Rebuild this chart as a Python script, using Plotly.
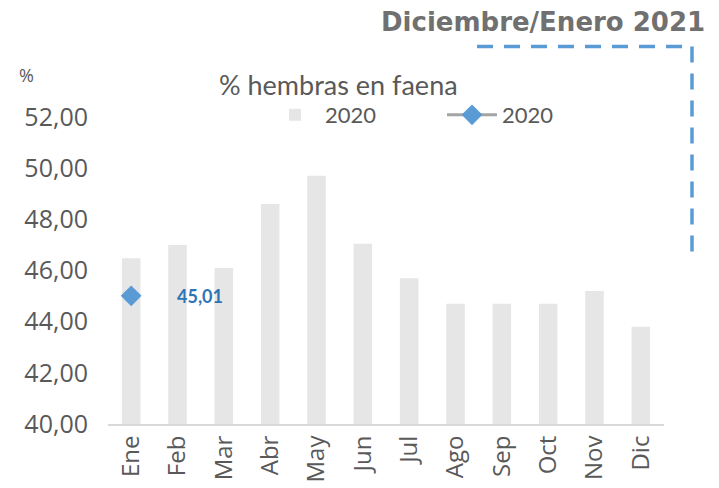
import plotly.graph_objects as go

months = ["Ene", "Feb", "Mar", "Abr", "May", "Jun", "Jul", "Ago", "Sep", "Oct", "Nov", "Dic"]
bars_2020 = [46.48, 47.0, 46.1, 48.6, 49.7, 47.05, 45.7, 44.7, 44.7, 44.7, 45.2, 43.8]
line_months = ["Ene"]
line_2021 = [45.01]
y_ticks = [40, 42, 44, 46, 48, 50, 52]

TICK_FONT = dict(family="Open Sans, Lato, sans-serif", size=25, color="#595959")
CAL_FONT = dict(family="Lato, 'Liberation Sans', sans-serif", size=22, color="#595959")

fig = go.Figure()
fig.add_trace(go.Bar(
    x=months, y=bars_2020, name="2020",
    marker=dict(color="#e6e6e6", line=dict(width=0)),
    width=0.4,
))
fig.add_trace(go.Scatter(
    x=line_months, y=line_2021, name="2020",
    mode="lines+markers",
    line=dict(color="#a5a5a5", width=3),
    marker=dict(symbol="diamond", size=16, color="#5b9bd5"),
))

fig.add_annotation(
    x=line_months[0], y=line_2021[0], xref="x", yref="y",
    text="<b>" + f"{line_2021[0]:.2f}".replace(".", ",") + "</b>",
    showarrow=False, xanchor="left", xshift=44,
    font=dict(family="Lato, 'Liberation Sans', sans-serif", size=18, color="#2e75b6"),
)

px = lambda v: (v - 108) / 556
py = lambda v: (424 - v) / 307

fig.add_annotation(
    x=px(338), y=py(85), xref="paper", yref="paper",
    text="% hembras en faena", showarrow=False, xanchor="center", yanchor="middle",
    font=dict(family="Lato, 'Liberation Sans', sans-serif", size=27, color="#595959"),
)
fig.add_annotation(
    x=px(17), y=py(75), xref="paper", yref="paper",
    text="%", showarrow=False, xanchor="left", yanchor="middle",
    font=dict(family="Open Sans, sans-serif", size=18, color="#595959"),
)
fig.add_annotation(
    x=px(707), y=py(22), xref="paper", yref="paper",
    text="<b>Diciembre/Enero 2021</b>", showarrow=False, xanchor="right", yanchor="middle",
    font=dict(family="DejaVu Sans, sans-serif", size=26, color="#707070"),
)

# dashed blue frame corner
fig.add_shape(type="line", xref="paper", yref="paper",
              x0=px(477), x1=px(692), y0=py(46.5), y1=py(46.5),
              line=dict(color="#5b9bd5", width=3.5, dash="16px,11px"))
fig.add_shape(type="line", xref="paper", yref="paper",
              x0=px(692), x1=px(692), y0=py(46.5), y1=py(256),
              line=dict(color="#5b9bd5", width=3.5, dash="16px,11px"))

fig.update_layout(
    width=719, height=488,
    margin=dict(l=108, r=55, t=117, b=64, autoexpand=False),
    paper_bgcolor="white", plot_bgcolor="white",
    separators=",.",
    showlegend=True,
    legend=dict(orientation="h", x=px(265), xanchor="left", y=py(115), yanchor="middle",
                font=CAL_FONT, itemwidth=50, entrywidth=112,
                bgcolor="rgba(0,0,0,0)", tracegroupgap=0),
    bargap=0.6,
)
fig.update_xaxes(
    range=[-0.5, len(months) - 0.5],
    tickangle=-90, tickfont=dict(family="Open Sans, sans-serif", size=24, color="#595959"),
    showline=True, linecolor="#d9d9d9", linewidth=2, ticks="", showgrid=False,
    automargin=False,
)
fig.update_yaxes(
    range=[40, 52], tickvals=y_ticks, tickformat=".2f", tickfont=TICK_FONT,
    showgrid=False, showline=False, zeroline=False, ticks="", ticklabelstandoff=19,
    automargin=False,
)

fig.write_html("out.html", config={"displayModeBar": False},
               post_script="document.body.style.margin='0';")
